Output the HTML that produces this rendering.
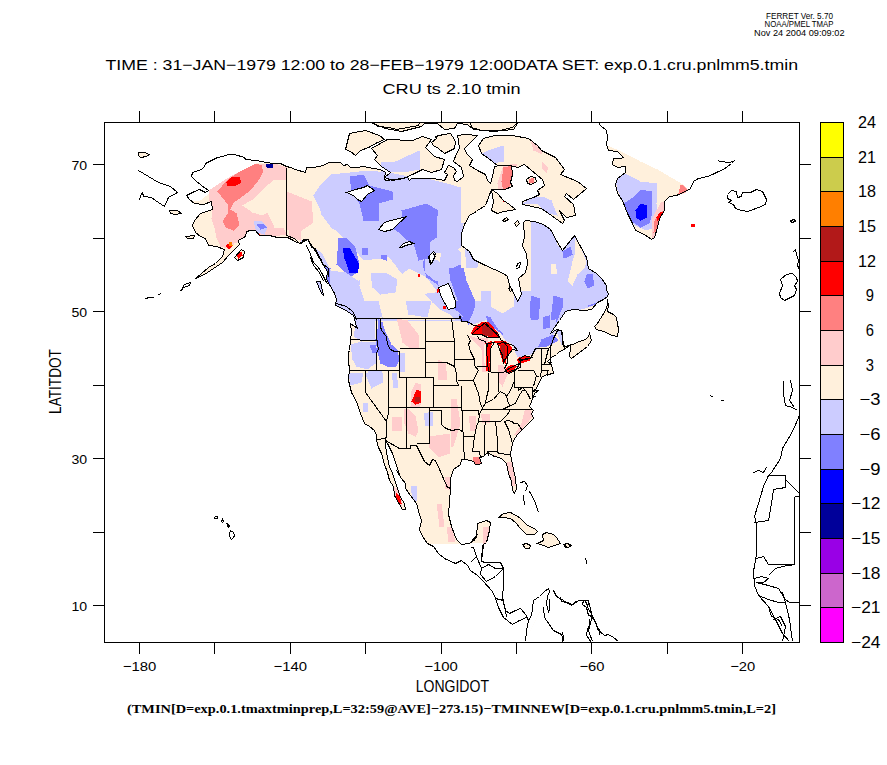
<!DOCTYPE html>
<html><head><meta charset="utf-8"><style>
html,body{margin:0;padding:0;background:#fff;}
svg{display:block;}
</style></head><body>
<svg width="887" height="765" viewBox="0 0 887 765" shape-rendering="crispEdges">
<rect width="887" height="765" fill="#fff"/>
<g clip-path="url(#clip)"><defs><clipPath id="landclip"><path d="M286.5 166.5 L280.5 163.5 L272.5 163.5 L261.5 161.5 L256.5 160.5 L245.5 159.5 L244.5 157.5 L234.5 154.5 L228.5 154.5 L222.5 156.5 L217.5 157.5 L211.5 160.5 L205.5 163.5 L203.5 168.5 L198.5 170.5 L192.5 172.5 L191.5 176.5 L195.5 180.5 L201.5 185.5 L208.5 190.5 L205.5 192.5 L199.5 189.5 L194.5 191.5 L186.5 195.5 L189.5 199.5 L194.5 203.5 L203.5 204.5 L211.5 201.5 L212.5 209.5 L206.5 211.5 L200.5 213.5 L194.5 220.5 L192.5 225.5 L195.5 232.5 L200.5 236.5 L205.5 238.5 L208.5 245.5 L216.5 246.5 L224.5 249.5 L222.5 256.5 L215.5 263.5 L208.5 267.5 L201.5 273.5 L195.5 278.5 L197.5 277.5 L204.5 274.5 L213.5 268.5 L222.5 262.5 L228.5 255.5 L235.5 248.5 L239.5 244.5 L238.5 240.5 L245.5 236.5 L246.5 231.5 L250.5 230.5 L255.5 230.5 L259.5 235.5 L264.5 235.5 L269.5 235.5 L277.5 237.5 L287.5 237.5 L293.5 240.5 L296.5 242.5 L301.5 243.5 L303.5 239.5 L308.5 239.5 L311.5 247.5 L315.5 248.5 L320.5 259.5 L323.5 265.5 L327.5 271.5 L326.5 279.5 L329.5 284.5 L334.5 293.5 L336.5 299.5 L335.5 305.5 L340.5 307.5 L347.5 311.5 L353.5 315.5 L354.5 318.5 L355.5 323.5 L357.5 328.5 L350.5 323.5 L351.5 332.5 L350.5 340.5 L349.5 350.5 L348.5 352.5 L348.5 362.5 L349.5 368.5 L348.5 380.5 L351.5 392.5 L355.5 399.5 L357.5 404.5 L360.5 413.5 L364.5 423.5 L369.5 426.5 L374.5 430.5 L376.5 435.5 L376.5 440.5 L378.5 447.5 L381.5 453.5 L384.5 464.5 L387.5 472.5 L389.5 480.5 L393.5 486.5 L394.5 495.5 L398.5 502.5 L402.5 509.5 L405.5 509.5 L404.5 503.5 L400.5 497.5 L397.5 488.5 L393.5 476.5 L391.5 470.5 L389.5 467.5 L387.5 457.5 L385.5 446.5 L385.5 440.5 L387.5 443.5 L392.5 453.5 L396.5 465.5 L399.5 474.5 L396.5 470.5 L401.5 478.5 L405.5 483.5 L405.5 488.5 L410.5 495.5 L416.5 503.5 L419.5 514.5 L421.5 520.5 L419.5 529.5 L422.5 536.5 L427.5 543.5 L433.5 546.5 L438.5 553.5 L444.5 558.5 L455.5 563.5 L461.5 560.5 L467.5 565.5 L470.5 570.5 L477.5 575.5 L482.5 580.5 L492.5 591.5 L495.5 598.5 L498.5 607.5 L503.5 617.5 L512.5 624.5 L519.5 620.5 L526.5 617.5 L528.5 620.5 L526.5 630.5 L525.5 641.5 L547.5 596.5 L549.5 591.5 L548.5 588.5 L544.5 591.5 L539.5 596.5 L533.5 600.5 L531.5 615.5 L528.5 620.5 L526.5 615.5 L520.5 608.5 L515.5 610.5 L509.5 613.5 L505.5 610.5 L502.5 598.5 L503.5 583.5 L503.5 568.5 L500.5 562.5 L493.5 562.5 L485.5 562.5 L481.5 561.5 L483.5 544.5 L486.5 542.5 L489.5 530.5 L490.5 522.5 L486.5 520.5 L477.5 523.5 L476.5 537.5 L473.5 540.5 L470.5 542.5 L477.5 534.5 L473.5 541.5 L468.5 543.5 L461.5 544.5 L456.5 539.5 L451.5 526.5 L448.5 514.5 L450.5 488.5 L450.5 478.5 L453.5 469.5 L460.5 464.5 L461.5 459.5 L466.5 459.5 L473.5 461.5 L475.5 464.5 L478.5 464.5 L481.5 463.5 L479.5 457.5 L483.5 456.5 L487.5 452.5 L494.5 456.5 L499.5 457.5 L502.5 459.5 L506.5 463.5 L508.5 473.5 L511.5 481.5 L512.5 490.5 L514.5 493.5 L516.5 488.5 L515.5 478.5 L512.5 464.5 L510.5 454.5 L511.5 447.5 L513.5 440.5 L517.5 434.5 L524.5 427.5 L529.5 422.5 L533.5 418.5 L531.5 413.5 L533.5 410.5 L529.5 406.5 L531.5 401.5 L534.5 393.5 L538.5 390.5 L532.5 391.5 L536.5 388.5 L539.5 381.5 L542.5 376.5 L547.5 374.5 L553.5 373.5 L551.5 364.5 L547.5 361.5 L551.5 357.5 L556.5 354.5 L559.5 351.5 L564.5 349.5 L570.5 344.5 L570.5 347.5 L569.5 356.5 L571.5 358.5 L579.5 352.5 L587.5 346.5 L591.5 340.5 L589.5 333.5 L587.5 338.5 L582.5 340.5 L576.5 342.5 L573.5 344.5 L564.5 346.5 L562.5 339.5 L561.5 330.5 L556.5 329.5 L550.5 333.5 L554.5 327.5 L559.5 320.5 L565.5 311.5 L572.5 309.5 L585.5 310.5 L591.5 309.5 L597.5 302.5 L603.5 299.5 L607.5 296.5 L608.5 293.5 L606.5 290.5 L606.5 285.5 L601.5 278.5 L596.5 273.5 L588.5 268.5 L586.5 257.5 L580.5 246.5 L574.5 235.5 L562.5 250.5 L557.5 242.5 L550.5 229.5 L543.5 224.5 L534.5 221.5 L525.5 220.5 L523.5 222.5 L524.5 236.5 L522.5 245.5 L526.5 254.5 L527.5 263.5 L525.5 272.5 L518.5 278.5 L521.5 294.5 L517.5 301.5 L514.5 294.5 L509.5 285.5 L507.5 276.5 L503.5 273.5 L494.5 269.5 L485.5 265.5 L473.5 259.5 L469.5 251.5 L461.5 245.5 L461.5 233.5 L464.5 224.5 L469.5 215.5 L476.5 211.5 L477.5 210.5 L485.5 205.5 L491.5 189.5 L495.5 189.5 L504.5 189.5 L512.5 186.5 L510.5 182.5 L512.5 174.5 L511.5 165.5 L499.5 165.5 L494.5 166.5 L492.5 176.5 L490.5 183.5 L487.5 180.5 L485.5 174.5 L477.5 170.5 L469.5 165.5 L472.5 159.5 L466.5 153.5 L464.5 148.5 L472.5 140.5 L477.5 135.5 L465.5 134.5 L457.5 135.5 L458.5 140.5 L459.5 148.5 L456.5 153.5 L453.5 161.5 L461.5 167.5 L463.5 176.5 L457.5 181.5 L454.5 180.5 L453.5 175.5 L456.5 171.5 L453.5 167.5 L448.5 165.5 L444.5 172.5 L447.5 174.5 L444.5 180.5 L433.5 178.5 L411.5 178.5 L409.5 180.5 L407.5 177.5 L401.5 178.5 L394.5 179.5 L385.5 180.5 L384.5 178.5 L385.5 172.5 L380.5 169.5 L373.5 168.5 L363.5 166.5 L356.5 167.5 L350.5 167.5 L347.5 164.5 L343.5 165.5 L340.5 162.5 L328.5 162.5 L323.5 165.5 L313.5 167.5 L306.5 167.5 L305.5 172.5 L295.5 169.5 L290.5 167.5ZM234.5 257.5 L241.5 249.5 L244.5 251.5 L243.5 257.5 L237.5 260.5ZM185.5 236.5 L194.5 235.5 L193.5 238.5 L187.5 238.5ZM316.5 281.5 L320.5 281.5 L321.5 286.5 L323.5 295.5 L321.5 293.5 L318.5 286.5ZM138.5 152.5 L144.5 152.5 L149.5 154.5 L146.5 156.5 L140.5 157.5 L138.5 155.5ZM169.5 210.5 L177.5 210.5 L181.5 213.5 L175.5 214.5 L170.5 213.5ZM607.5 299.5 L607.5 304.5 L605.5 310.5 L600.5 318.5 L597.5 323.5 L594.5 326.5 L596.5 329.5 L603.5 331.5 L612.5 335.5 L617.5 336.5 L618.5 329.5 L617.5 323.5 L616.5 317.5 L613.5 314.5 L607.5 311.5 L608.5 305.5ZM498.5 517.5 L503.5 513.5 L510.5 512.5 L519.5 517.5 L527.5 525.5 L534.5 528.5 L537.5 531.5 L534.5 534.5 L526.5 534.5 L520.5 528.5 L515.5 522.5 L510.5 518.5 L503.5 517.5ZM522.5 544.5 L526.5 543.5 L530.5 545.5 L529.5 548.5 L525.5 548.5ZM537.5 543.5 L543.5 540.5 L542.5 534.5 L546.5 532.5 L553.5 534.5 L556.5 537.5 L560.5 543.5 L554.5 545.5 L548.5 547.5 L543.5 545.5ZM564.5 544.5 L567.5 543.5 L571.5 545.5 L568.5 547.5 L565.5 546.5ZM478.5 145.5 L483.5 138.5 L494.5 135.5 L512.5 135.5 L528.5 138.5 L537.5 145.5 L541.5 150.5 L555.5 157.5 L564.5 169.5 L560.5 174.5 L577.5 181.5 L586.5 188.5 L573.5 199.5 L566.5 193.5 L564.5 196.5 L573.5 204.5 L575.5 215.5 L566.5 217.5 L559.5 210.5 L564.5 220.5 L562.5 223.5 L551.5 215.5 L541.5 208.5 L522.5 204.5 L522.5 201.5 L533.5 197.5 L539.5 194.5 L537.5 190.5 L544.5 185.5 L542.5 179.5 L531.5 170.5 L524.5 164.5 L517.5 167.5 L510.5 165.5 L497.5 165.5 L488.5 158.5 L481.5 153.5ZM470.5 122.5 L471.5 127.5 L481.5 130.5 L499.5 130.5 L512.5 127.5 L517.5 122.5ZM371.5 148.5 L387.5 139.5 L412.5 140.5 L422.5 136.5 L431.5 139.5 L425.5 147.5 L434.5 156.5 L444.5 159.5 L441.5 169.5 L431.5 172.5 L422.5 169.5 L412.5 174.5 L403.5 178.5 L392.5 180.5 L384.5 177.5 L390.5 172.5 L381.5 166.5 L374.5 159.5 L377.5 155.5ZM345.5 149.5 L349.5 133.5 L365.5 130.5 L379.5 135.5 L384.5 139.5 L377.5 142.5 L368.5 147.5 L360.5 150.5 L355.5 155.5 L350.5 151.5ZM431.5 142.5 L436.5 138.5 L435.5 136.5 L443.5 134.5 L450.5 133.5 L452.5 136.5 L455.5 141.5 L454.5 148.5 L444.5 153.5 L438.5 148.5 L433.5 145.5ZM491.5 189.5 L497.5 193.5 L503.5 200.5 L509.5 204.5 L515.5 209.5 L510.5 210.5 L503.5 211.5 L497.5 213.5 L491.5 210.5 L493.5 201.5ZM373.5 122.5 L377.5 126.5 L389.5 127.5 L396.5 129.5 L407.5 127.5 L418.5 125.5 L419.5 122.5ZM365.5 120.5 L385.5 128.5 L401.5 131.5 L421.5 126.5 L424.5 123.5 L437.5 123.5 L444.5 129.5 L454.5 128.5 L457.5 123.5 L467.5 124.5 L473.5 129.5 L493.5 131.5 L513.5 129.5 L517.5 123.5 L516.5 120.5ZM526.5 179.5 L530.5 176.5 L535.5 177.5 L536.5 181.5 L531.5 184.5 L527.5 183.5ZM502.5 220.5 L506.5 217.5 L508.5 219.5 L504.5 221.5ZM514.5 223.5 L517.5 220.5 L519.5 223.5 L516.5 226.5ZM607.5 145.5 L623.5 152.5 L640.5 161.5 L657.5 169.5 L669.5 176.5 L681.5 183.5 L687.5 189.5 L685.5 192.5 L676.5 195.5 L669.5 196.5 L664.5 201.5 L664.5 210.5 L659.5 218.5 L657.5 227.5 L654.5 237.5 L651.5 239.5 L644.5 234.5 L635.5 230.5 L632.5 223.5 L627.5 213.5 L622.5 200.5 L617.5 193.5 L615.5 184.5 L617.5 178.5 L625.5 172.5 L625.5 166.5 L617.5 167.5 L612.5 164.5 L613.5 158.5 L623.5 157.5 L617.5 151.5 L608.5 150.5Z"/></clipPath></defs><path d="M286.5 166.5 L280.5 163.5 L272.5 163.5 L261.5 161.5 L256.5 160.5 L245.5 159.5 L244.5 157.5 L234.5 154.5 L228.5 154.5 L222.5 156.5 L217.5 157.5 L211.5 160.5 L205.5 163.5 L203.5 168.5 L198.5 170.5 L192.5 172.5 L191.5 176.5 L195.5 180.5 L201.5 185.5 L208.5 190.5 L205.5 192.5 L199.5 189.5 L194.5 191.5 L186.5 195.5 L189.5 199.5 L194.5 203.5 L203.5 204.5 L211.5 201.5 L212.5 209.5 L206.5 211.5 L200.5 213.5 L194.5 220.5 L192.5 225.5 L195.5 232.5 L200.5 236.5 L205.5 238.5 L208.5 245.5 L216.5 246.5 L224.5 249.5 L222.5 256.5 L215.5 263.5 L208.5 267.5 L201.5 273.5 L195.5 278.5 L197.5 277.5 L204.5 274.5 L213.5 268.5 L222.5 262.5 L228.5 255.5 L235.5 248.5 L239.5 244.5 L238.5 240.5 L245.5 236.5 L246.5 231.5 L250.5 230.5 L255.5 230.5 L259.5 235.5 L264.5 235.5 L269.5 235.5 L277.5 237.5 L287.5 237.5 L293.5 240.5 L296.5 242.5 L301.5 243.5 L303.5 239.5 L308.5 239.5 L311.5 247.5 L315.5 248.5 L320.5 259.5 L323.5 265.5 L327.5 271.5 L326.5 279.5 L329.5 284.5 L334.5 293.5 L336.5 299.5 L335.5 305.5 L340.5 307.5 L347.5 311.5 L353.5 315.5 L354.5 318.5 L355.5 323.5 L357.5 328.5 L350.5 323.5 L351.5 332.5 L350.5 340.5 L349.5 350.5 L348.5 352.5 L348.5 362.5 L349.5 368.5 L348.5 380.5 L351.5 392.5 L355.5 399.5 L357.5 404.5 L360.5 413.5 L364.5 423.5 L369.5 426.5 L374.5 430.5 L376.5 435.5 L376.5 440.5 L378.5 447.5 L381.5 453.5 L384.5 464.5 L387.5 472.5 L389.5 480.5 L393.5 486.5 L394.5 495.5 L398.5 502.5 L402.5 509.5 L405.5 509.5 L404.5 503.5 L400.5 497.5 L397.5 488.5 L393.5 476.5 L391.5 470.5 L389.5 467.5 L387.5 457.5 L385.5 446.5 L385.5 440.5 L387.5 443.5 L392.5 453.5 L396.5 465.5 L399.5 474.5 L396.5 470.5 L401.5 478.5 L405.5 483.5 L405.5 488.5 L410.5 495.5 L416.5 503.5 L419.5 514.5 L421.5 520.5 L419.5 529.5 L422.5 536.5 L427.5 543.5 L433.5 546.5 L438.5 553.5 L444.5 558.5 L455.5 563.5 L461.5 560.5 L467.5 565.5 L470.5 570.5 L477.5 575.5 L482.5 580.5 L492.5 591.5 L495.5 598.5 L498.5 607.5 L503.5 617.5 L512.5 624.5 L519.5 620.5 L526.5 617.5 L528.5 620.5 L526.5 630.5 L525.5 641.5 L547.5 596.5 L549.5 591.5 L548.5 588.5 L544.5 591.5 L539.5 596.5 L533.5 600.5 L531.5 615.5 L528.5 620.5 L526.5 615.5 L520.5 608.5 L515.5 610.5 L509.5 613.5 L505.5 610.5 L502.5 598.5 L503.5 583.5 L503.5 568.5 L500.5 562.5 L493.5 562.5 L485.5 562.5 L481.5 561.5 L483.5 544.5 L486.5 542.5 L489.5 530.5 L490.5 522.5 L486.5 520.5 L477.5 523.5 L476.5 537.5 L473.5 540.5 L470.5 542.5 L477.5 534.5 L473.5 541.5 L468.5 543.5 L461.5 544.5 L456.5 539.5 L451.5 526.5 L448.5 514.5 L450.5 488.5 L450.5 478.5 L453.5 469.5 L460.5 464.5 L461.5 459.5 L466.5 459.5 L473.5 461.5 L475.5 464.5 L478.5 464.5 L481.5 463.5 L479.5 457.5 L483.5 456.5 L487.5 452.5 L494.5 456.5 L499.5 457.5 L502.5 459.5 L506.5 463.5 L508.5 473.5 L511.5 481.5 L512.5 490.5 L514.5 493.5 L516.5 488.5 L515.5 478.5 L512.5 464.5 L510.5 454.5 L511.5 447.5 L513.5 440.5 L517.5 434.5 L524.5 427.5 L529.5 422.5 L533.5 418.5 L531.5 413.5 L533.5 410.5 L529.5 406.5 L531.5 401.5 L534.5 393.5 L538.5 390.5 L532.5 391.5 L536.5 388.5 L539.5 381.5 L542.5 376.5 L547.5 374.5 L553.5 373.5 L551.5 364.5 L547.5 361.5 L551.5 357.5 L556.5 354.5 L559.5 351.5 L564.5 349.5 L570.5 344.5 L570.5 347.5 L569.5 356.5 L571.5 358.5 L579.5 352.5 L587.5 346.5 L591.5 340.5 L589.5 333.5 L587.5 338.5 L582.5 340.5 L576.5 342.5 L573.5 344.5 L564.5 346.5 L562.5 339.5 L561.5 330.5 L556.5 329.5 L550.5 333.5 L554.5 327.5 L559.5 320.5 L565.5 311.5 L572.5 309.5 L585.5 310.5 L591.5 309.5 L597.5 302.5 L603.5 299.5 L607.5 296.5 L608.5 293.5 L606.5 290.5 L606.5 285.5 L601.5 278.5 L596.5 273.5 L588.5 268.5 L586.5 257.5 L580.5 246.5 L574.5 235.5 L562.5 250.5 L557.5 242.5 L550.5 229.5 L543.5 224.5 L534.5 221.5 L525.5 220.5 L523.5 222.5 L524.5 236.5 L522.5 245.5 L526.5 254.5 L527.5 263.5 L525.5 272.5 L518.5 278.5 L521.5 294.5 L517.5 301.5 L514.5 294.5 L509.5 285.5 L507.5 276.5 L503.5 273.5 L494.5 269.5 L485.5 265.5 L473.5 259.5 L469.5 251.5 L461.5 245.5 L461.5 233.5 L464.5 224.5 L469.5 215.5 L476.5 211.5 L477.5 210.5 L485.5 205.5 L491.5 189.5 L495.5 189.5 L504.5 189.5 L512.5 186.5 L510.5 182.5 L512.5 174.5 L511.5 165.5 L499.5 165.5 L494.5 166.5 L492.5 176.5 L490.5 183.5 L487.5 180.5 L485.5 174.5 L477.5 170.5 L469.5 165.5 L472.5 159.5 L466.5 153.5 L464.5 148.5 L472.5 140.5 L477.5 135.5 L465.5 134.5 L457.5 135.5 L458.5 140.5 L459.5 148.5 L456.5 153.5 L453.5 161.5 L461.5 167.5 L463.5 176.5 L457.5 181.5 L454.5 180.5 L453.5 175.5 L456.5 171.5 L453.5 167.5 L448.5 165.5 L444.5 172.5 L447.5 174.5 L444.5 180.5 L433.5 178.5 L411.5 178.5 L409.5 180.5 L407.5 177.5 L401.5 178.5 L394.5 179.5 L385.5 180.5 L384.5 178.5 L385.5 172.5 L380.5 169.5 L373.5 168.5 L363.5 166.5 L356.5 167.5 L350.5 167.5 L347.5 164.5 L343.5 165.5 L340.5 162.5 L328.5 162.5 L323.5 165.5 L313.5 167.5 L306.5 167.5 L305.5 172.5 L295.5 169.5 L290.5 167.5ZM234.5 257.5 L241.5 249.5 L244.5 251.5 L243.5 257.5 L237.5 260.5ZM185.5 236.5 L194.5 235.5 L193.5 238.5 L187.5 238.5ZM316.5 281.5 L320.5 281.5 L321.5 286.5 L323.5 295.5 L321.5 293.5 L318.5 286.5ZM138.5 152.5 L144.5 152.5 L149.5 154.5 L146.5 156.5 L140.5 157.5 L138.5 155.5ZM169.5 210.5 L177.5 210.5 L181.5 213.5 L175.5 214.5 L170.5 213.5ZM607.5 299.5 L607.5 304.5 L605.5 310.5 L600.5 318.5 L597.5 323.5 L594.5 326.5 L596.5 329.5 L603.5 331.5 L612.5 335.5 L617.5 336.5 L618.5 329.5 L617.5 323.5 L616.5 317.5 L613.5 314.5 L607.5 311.5 L608.5 305.5ZM498.5 517.5 L503.5 513.5 L510.5 512.5 L519.5 517.5 L527.5 525.5 L534.5 528.5 L537.5 531.5 L534.5 534.5 L526.5 534.5 L520.5 528.5 L515.5 522.5 L510.5 518.5 L503.5 517.5ZM522.5 544.5 L526.5 543.5 L530.5 545.5 L529.5 548.5 L525.5 548.5ZM537.5 543.5 L543.5 540.5 L542.5 534.5 L546.5 532.5 L553.5 534.5 L556.5 537.5 L560.5 543.5 L554.5 545.5 L548.5 547.5 L543.5 545.5ZM564.5 544.5 L567.5 543.5 L571.5 545.5 L568.5 547.5 L565.5 546.5ZM478.5 145.5 L483.5 138.5 L494.5 135.5 L512.5 135.5 L528.5 138.5 L537.5 145.5 L541.5 150.5 L555.5 157.5 L564.5 169.5 L560.5 174.5 L577.5 181.5 L586.5 188.5 L573.5 199.5 L566.5 193.5 L564.5 196.5 L573.5 204.5 L575.5 215.5 L566.5 217.5 L559.5 210.5 L564.5 220.5 L562.5 223.5 L551.5 215.5 L541.5 208.5 L522.5 204.5 L522.5 201.5 L533.5 197.5 L539.5 194.5 L537.5 190.5 L544.5 185.5 L542.5 179.5 L531.5 170.5 L524.5 164.5 L517.5 167.5 L510.5 165.5 L497.5 165.5 L488.5 158.5 L481.5 153.5ZM470.5 122.5 L471.5 127.5 L481.5 130.5 L499.5 130.5 L512.5 127.5 L517.5 122.5ZM371.5 148.5 L387.5 139.5 L412.5 140.5 L422.5 136.5 L431.5 139.5 L425.5 147.5 L434.5 156.5 L444.5 159.5 L441.5 169.5 L431.5 172.5 L422.5 169.5 L412.5 174.5 L403.5 178.5 L392.5 180.5 L384.5 177.5 L390.5 172.5 L381.5 166.5 L374.5 159.5 L377.5 155.5ZM345.5 149.5 L349.5 133.5 L365.5 130.5 L379.5 135.5 L384.5 139.5 L377.5 142.5 L368.5 147.5 L360.5 150.5 L355.5 155.5 L350.5 151.5ZM431.5 142.5 L436.5 138.5 L435.5 136.5 L443.5 134.5 L450.5 133.5 L452.5 136.5 L455.5 141.5 L454.5 148.5 L444.5 153.5 L438.5 148.5 L433.5 145.5ZM491.5 189.5 L497.5 193.5 L503.5 200.5 L509.5 204.5 L515.5 209.5 L510.5 210.5 L503.5 211.5 L497.5 213.5 L491.5 210.5 L493.5 201.5ZM373.5 122.5 L377.5 126.5 L389.5 127.5 L396.5 129.5 L407.5 127.5 L418.5 125.5 L419.5 122.5ZM365.5 120.5 L385.5 128.5 L401.5 131.5 L421.5 126.5 L424.5 123.5 L437.5 123.5 L444.5 129.5 L454.5 128.5 L457.5 123.5 L467.5 124.5 L473.5 129.5 L493.5 131.5 L513.5 129.5 L517.5 123.5 L516.5 120.5ZM526.5 179.5 L530.5 176.5 L535.5 177.5 L536.5 181.5 L531.5 184.5 L527.5 183.5ZM502.5 220.5 L506.5 217.5 L508.5 219.5 L504.5 221.5ZM514.5 223.5 L517.5 220.5 L519.5 223.5 L516.5 226.5ZM607.5 145.5 L623.5 152.5 L640.5 161.5 L657.5 169.5 L669.5 176.5 L681.5 183.5 L687.5 189.5 L685.5 192.5 L676.5 195.5 L669.5 196.5 L664.5 201.5 L664.5 210.5 L659.5 218.5 L657.5 227.5 L654.5 237.5 L651.5 239.5 L644.5 234.5 L635.5 230.5 L632.5 223.5 L627.5 213.5 L622.5 200.5 L617.5 193.5 L615.5 184.5 L617.5 178.5 L625.5 172.5 L625.5 166.5 L617.5 167.5 L612.5 164.5 L613.5 158.5 L623.5 157.5 L617.5 151.5 L608.5 150.5Z" fill="#fff0dc" stroke="none" fill-rule="nonzero"/><g clip-path="url(#landclip)"><path d="M189.5 161.5 L211.5 155.5 L234.5 152.5 L261.5 158.5 L280.5 161.5 L255.5 163.5 L242.5 171.5 L227.5 179.5 L211.5 191.5 L200.5 200.5 L184.5 200.5 L186.5 187.5Z" fill="#ffffff"/><path d="M410.5 543.5 L434.5 543.5 L456.5 543.5 L475.5 543.5 L495.5 543.5 L495.5 599.5 L410.5 599.5Z" fill="#ffffff"/><path d="M470.5 542.5 L492.5 542.5 L492.5 630.5 L470.5 630.5Z" fill="#ffffff"/><path d="M330.5 174.5 L349.5 172.5 L367.5 170.5 L388.5 172.5 L409.5 176.5 L426.5 178.5 L447.5 183.5 L460.5 187.5 L460.5 320.5 L426.5 320.5 L413.5 306.5 L405.5 293.5 L392.5 285.5 L376.5 277.5 L363.5 260.5 L349.5 243.5 L334.5 229.5 L321.5 212.5 L313.5 195.5 L321.5 183.5Z" fill="#ccccff"/><path d="M372.5 260.5 L388.5 256.5 L397.5 268.5 L405.5 277.5 L413.5 293.5 L397.5 293.5 L380.5 285.5Z" fill="#fff0dc"/><path d="M397.5 277.5 L409.5 268.5 L426.5 277.5 L438.5 293.5 L426.5 306.5 L413.5 302.5Z" fill="#fff0dc"/><path d="M286.5 191.5 L311.5 201.5 L313.5 222.5 L300.5 231.5 L286.5 229.5Z" fill="#ffcccc"/><path d="M317.5 201.5 L328.5 203.5 L340.5 226.5 L332.5 229.5 L321.5 214.5Z" fill="#ccccff"/><path d="M349.5 176.5 L363.5 174.5 L369.5 185.5 L392.5 191.5 L392.5 199.5 L378.5 203.5 L378.5 220.5 L363.5 220.5 L359.5 203.5 L351.5 191.5Z" fill="#8080ff"/><path d="M401.5 210.5 L426.5 203.5 L438.5 210.5 L436.5 222.5 L430.5 239.5 L426.5 258.5 L418.5 260.5 L413.5 243.5 L405.5 239.5 L397.5 231.5 L388.5 226.5 L401.5 218.5Z" fill="#8080ff"/><path d="M338.5 237.5 L346.5 237.5 L355.5 247.5 L359.5 264.5 L357.5 272.5 L349.5 277.5 L336.5 264.5Z" fill="#8080ff"/><path d="M342.5 247.5 L349.5 247.5 L359.5 264.5 L357.5 272.5 L349.5 272.5 L344.5 258.5Z" fill="#0000ff"/><path d="M451.5 268.5 L460.5 264.5 L460.5 293.5 L453.5 285.5Z" fill="#8080ff"/><path d="M380.5 254.5 L386.5 254.5 L386.5 264.5 L380.5 264.5Z" fill="#8080ff"/><path d="M361.5 247.5 L367.5 247.5 L367.5 254.5 L361.5 254.5Z" fill="#8080ff"/><path d="M424.5 256.5 L434.5 268.5 L438.5 285.5 L426.5 277.5 L422.5 264.5Z" fill="#8080ff"/><path d="M317.5 264.5 L328.5 268.5 L330.5 281.5 L321.5 283.5Z" fill="#8080ff"/><path d="M300.5 239.5 L321.5 252.5 L334.5 277.5 L338.5 306.5 L330.5 320.5 L321.5 306.5 L311.5 277.5Z" fill="#ccccff"/><path d="M332.5 285.5 L374.5 277.5 L388.5 289.5 L405.5 298.5 L426.5 293.5 L460.5 289.5 L460.5 320.5 L332.5 320.5Z" fill="#ccccff"/><path d="M374.5 293.5 L388.5 293.5 L397.5 306.5 L380.5 310.5Z" fill="#fff0dc"/><path d="M305.5 243.5 L313.5 247.5 L328.5 268.5 L330.5 285.5 L321.5 285.5 L311.5 264.5Z" fill="#ccccff"/><path d="M321.5 264.5 L330.5 268.5 L329.5 283.5 L323.5 281.5Z" fill="#8080ff"/><path d="M400.5 220.5 L436.5 220.5 L436.5 237.5 L430.5 241.5 L429.5 258.5 L421.5 259.5 L419.5 252.5 L414.5 241.5 L405.5 233.5 L400.5 228.5Z" fill="#8080ff"/><path d="M448.5 267.5 L463.5 267.5 L466.5 280.5 L475.5 301.5 L477.5 321.5 L468.5 324.5 L461.5 311.5 L455.5 294.5 L450.5 280.5Z" fill="#8080ff"/><path d="M461.5 220.5 L468.5 220.5 L467.5 243.5 L461.5 249.5 L465.5 258.5 L470.5 261.5 L482.5 268.5 L502.5 275.5 L505.5 284.5 L511.5 296.5 L517.5 303.5 L511.5 313.5 L499.5 310.5 L487.5 302.5 L479.5 287.5 L473.5 266.5 L468.5 261.5 L458.5 249.5 L457.5 231.5Z" fill="#fff0dc"/><path d="M400.5 281.5 L407.5 278.5 L414.5 287.5 L424.5 293.5 L432.5 302.5 L441.5 310.5 L448.5 313.5 L455.5 319.5 L400.5 319.5Z" fill="#fff0dc"/><path d="M433.5 252.5 L441.5 252.5 L439.5 261.5 L435.5 259.5Z" fill="#fff0dc"/><path d="M208.5 190.5 L220.5 182.5 L233.5 174.5 L245.5 168.5 L255.5 163.5 L274.5 163.5 L286.5 167.5 L286.5 191.5 L280.5 191.5 L274.5 199.5 L267.5 212.5 L274.5 227.5 L283.5 227.5 L286.5 234.5 L267.5 237.5 L250.5 237.5 L242.5 240.5 L234.5 243.5 L230.5 249.5 L220.5 246.5 L216.5 237.5 L214.5 227.5 L211.5 218.5 L212.5 209.5 L209.5 201.5Z" fill="#ffcccc"/><path d="M242.5 205.5 L252.5 199.5 L264.5 187.5 L274.5 179.5 L286.5 180.5 L286.5 191.5 L280.5 191.5 L274.5 199.5 L267.5 212.5 L261.5 215.5 L252.5 212.5Z" fill="#fff0dc"/><path d="M217.5 191.5 L227.5 179.5 L239.5 171.5 L255.5 163.5 L261.5 165.5 L263.5 171.5 L258.5 180.5 L250.5 190.5 L242.5 196.5 L233.5 202.5 L230.5 209.5 L236.5 213.5 L239.5 224.5 L233.5 230.5 L225.5 227.5 L222.5 221.5 L227.5 213.5 L228.5 205.5Z" fill="#ff8080"/><path d="M226.5 182.5 L230.5 177.5 L239.5 176.5 L241.5 182.5 L236.5 185.5 L227.5 186.5Z" fill="#ff0000"/><path d="M253.5 221.5 L261.5 220.5 L267.5 227.5 L264.5 234.5 L256.5 232.5Z" fill="#ccccff"/><path d="M256.5 224.5 L263.5 223.5 L266.5 227.5 L260.5 229.5Z" fill="#8080ff"/><path d="M265.5 163.5 L272.5 163.5 L272.5 167.5 L266.5 167.5Z" fill="#00009a"/><path d="M255.5 234.5 L258.5 232.5 L260.5 235.5 L256.5 237.5Z" fill="#ff0000"/><path d="M261.5 234.5 L264.5 234.5 L265.5 237.5 L261.5 237.5Z" fill="#ff0000"/><path d="M225.5 245.5 L228.5 243.5 L231.5 246.5 L228.5 249.5Z" fill="#ff0000"/><path d="M228.5 242.5 L231.5 241.5 L232.5 245.5 L229.5 246.5Z" fill="#ff7f00"/><path d="M288.5 227.5 L300.5 221.5 L300.5 240.5 L289.5 237.5Z" fill="#ffcccc"/><path d="M362.5 260.5 L380.5 258.5 L394.5 263.5 L401.5 277.5 L404.5 297.5 L417.5 306.5 L424.5 317.5 L401.5 317.5 L380.5 317.5 L363.5 307.5 L357.5 294.5 L360.5 280.5Z" fill="#fff0dc"/><path d="M370.5 273.5 L385.5 272.5 L397.5 279.5 L395.5 292.5 L380.5 294.5 L372.5 287.5Z" fill="#ccccff"/><path d="M330.5 270.5 L345.5 272.5 L357.5 280.5 L363.5 297.5 L368.5 317.5 L353.5 317.5 L340.5 301.5 L330.5 294.5Z" fill="#ccccff"/><path d="M424.5 258.5 L448.5 263.5 L448.5 280.5 L434.5 280.5 L424.5 272.5Z" fill="#ccccff"/><path d="M436.5 289.5 L439.5 288.5 L440.5 291.5 L437.5 292.5Z" fill="#ff0000"/><path d="M442.5 305.5 L445.5 305.5 L445.5 308.5 L442.5 308.5Z" fill="#ff0000"/><path d="M417.5 273.5 L419.5 273.5 L419.5 276.5 L417.5 276.5Z" fill="#ff0000"/><path d="M428.5 255.5 L430.5 255.5 L430.5 258.5 L428.5 258.5Z" fill="#ff0000"/><path d="M356.5 320.5 L374.5 318.5 L375.5 339.5 L361.5 341.5 L353.5 336.5Z" fill="#ccccff"/><path d="M350.5 344.5 L361.5 341.5 L375.5 342.5 L375.5 363.5 L367.5 369.5 L356.5 366.5 L352.5 359.5Z" fill="#ccccff"/><path d="M369.5 345.5 L375.5 344.5 L377.5 352.5 L372.5 352.5Z" fill="#8080ff"/><path d="M377.5 318.5 L382.5 322.5 L385.5 331.5 L391.5 344.5 L397.5 350.5 L399.5 359.5 L396.5 366.5 L389.5 367.5 L380.5 363.5 L377.5 352.5 L375.5 339.5 L377.5 328.5Z" fill="#8080ff"/><path d="M396.5 318.5 L407.5 320.5 L418.5 334.5 L418.5 347.5 L410.5 348.5 L402.5 342.5 L399.5 329.5Z" fill="#ffcccc"/><path d="M399.5 352.5 L404.5 352.5 L404.5 371.5 L399.5 371.5Z" fill="#ccccff"/><path d="M364.5 372.5 L382.5 372.5 L382.5 382.5 L371.5 388.5Z" fill="#ccccff"/><path d="M348.5 372.5 L363.5 372.5 L361.5 382.5 L350.5 385.5Z" fill="#ccccff"/><path d="M359.5 300.5 L378.5 300.5 L382.5 317.5 L364.5 315.5Z" fill="#ccccff"/><path d="M405.5 300.5 L431.5 300.5 L427.5 317.5 L408.5 314.5Z" fill="#ccccff"/><path d="M456.5 300.5 L469.5 300.5 L469.5 323.5 L460.5 320.5 L457.5 309.5Z" fill="#8080ff"/><path d="M437.5 359.5 L445.5 363.5 L446.5 375.5 L437.5 378.5Z" fill="#ffcccc"/><path d="M411.5 391.5 L415.5 382.5 L420.5 384.5 L421.5 402.5 L418.5 408.5 L410.5 406.5Z" fill="#ffcccc"/><path d="M411.5 401.5 L416.5 389.5 L420.5 391.5 L421.5 402.5 L415.5 404.5Z" fill="#ff0000"/><path d="M414.5 396.5 L419.5 396.5 L420.5 401.5 L414.5 401.5Z" fill="#b21919"/><path d="M403.5 408.5 L408.5 408.5 L415.5 416.5 L418.5 430.5 L415.5 436.5 L408.5 433.5 L404.5 423.5Z" fill="#ffcccc"/><path d="M423.5 413.5 L432.5 411.5 L432.5 425.5 L425.5 425.5Z" fill="#ccccff"/><path d="M391.5 416.5 L401.5 416.5 L401.5 431.5 L391.5 430.5Z" fill="#ffcccc"/><path d="M428.5 436.5 L449.5 433.5 L449.5 453.5 L438.5 457.5 L428.5 447.5Z" fill="#ffcccc"/><path d="M437.5 362.5 L445.5 362.5 L447.5 379.5 L438.5 379.5Z" fill="#ffcccc"/><path d="M367.5 370.5 L381.5 370.5 L381.5 382.5 L370.5 384.5Z" fill="#ccccff"/><path d="M391.5 372.5 L396.5 372.5 L398.5 387.5 L393.5 387.5Z" fill="#ccccff"/><path d="M362.5 402.5 L367.5 402.5 L367.5 411.5 L362.5 411.5Z" fill="#ccccff"/><path d="M450.5 307.5 L462.5 316.5 L472.5 324.5 L487.5 319.5 L499.5 331.5 L505.5 340.5 L514.5 345.5 L519.5 349.5 L529.5 352.5 L536.5 347.5 L549.5 340.5 L559.5 324.5 L559.5 300.5 L450.5 300.5Z" fill="#ccccff"/><path d="M450.5 300.5 L474.5 300.5 L474.5 307.5 L472.5 314.5 L468.5 321.5 L462.5 316.5 L457.5 311.5 L452.5 307.5Z" fill="#8080ff"/><path d="M529.5 300.5 L539.5 300.5 L540.5 314.5 L536.5 318.5 L530.5 314.5Z" fill="#8080ff"/><path d="M543.5 312.5 L549.5 314.5 L550.5 327.5 L544.5 329.5Z" fill="#8080ff"/><path d="M485.5 314.5 L492.5 317.5 L497.5 322.5 L504.5 324.5 L508.5 332.5 L502.5 334.5 L494.5 328.5 L487.5 322.5Z" fill="#8080ff"/><path d="M468.5 335.5 L474.5 337.5 L487.5 338.5 L487.5 342.5 L484.5 344.5 L483.5 352.5 L484.5 362.5 L487.5 371.5 L481.5 371.5 L481.5 349.5Z" fill="#ffcccc"/><path d="M470.5 333.5 L473.5 327.5 L482.5 321.5 L487.5 321.5 L493.5 327.5 L498.5 333.5 L497.5 337.5 L490.5 337.5 L484.5 335.5 L479.5 334.5 L474.5 335.5Z" fill="#ff0000"/><path d="M481.5 326.5 L487.5 324.5 L493.5 329.5 L492.5 335.5 L484.5 335.5 L482.5 332.5Z" fill="#b21919"/><path d="M485.5 343.5 L492.5 340.5 L490.5 349.5 L489.5 362.5 L489.5 371.5 L485.5 370.5 L485.5 358.5Z" fill="#ff0000"/><path d="M492.5 340.5 L504.5 340.5 L512.5 347.5 L509.5 353.5 L507.5 354.5 L505.5 363.5 L502.5 362.5 L500.5 354.5 L499.5 345.5Z" fill="#ff0000"/><path d="M500.5 345.5 L504.5 344.5 L505.5 354.5 L503.5 358.5Z" fill="#b21919"/><path d="M504.5 369.5 L509.5 365.5 L514.5 364.5 L516.5 366.5 L512.5 371.5 L507.5 373.5Z" fill="#ff0000"/><path d="M516.5 359.5 L521.5 355.5 L529.5 357.5 L529.5 360.5 L523.5 362.5 L518.5 362.5Z" fill="#ff0000"/><path d="M497.5 364.5 L502.5 364.5 L507.5 374.5 L502.5 386.5 L497.5 381.5Z" fill="#ffcccc"/><path d="M480.5 290.5 L609.5 290.5 L609.5 300.5 L598.5 303.5 L585.5 308.5 L568.5 312.5 L561.5 320.5 L551.5 334.5 L541.5 346.5 L530.5 354.5 L517.5 357.5 L510.5 340.5 L498.5 329.5 L490.5 317.5 L480.5 313.5Z" fill="#ccccff"/><path d="M529.5 300.5 L536.5 300.5 L539.5 312.5 L536.5 318.5 L529.5 317.5Z" fill="#8080ff"/><path d="M554.5 296.5 L564.5 300.5 L561.5 310.5 L556.5 322.5 L553.5 312.5Z" fill="#8080ff"/><path d="M542.5 315.5 L549.5 313.5 L549.5 327.5 L542.5 329.5Z" fill="#8080ff"/><path d="M541.5 339.5 L553.5 334.5 L558.5 340.5 L547.5 346.5 L537.5 347.5Z" fill="#8080ff"/><path d="M585.5 300.5 L598.5 296.5 L602.5 303.5 L588.5 306.5Z" fill="#8080ff"/><path d="M553.5 323.5 L568.5 318.5 L575.5 330.5 L581.5 337.5 L573.5 344.5 L561.5 344.5Z" fill="#ccccff"/><path d="M546.5 293.5 L553.5 293.5 L551.5 300.5 L547.5 298.5Z" fill="#fff0dc"/><path d="M490.5 290.5 L513.5 290.5 L513.5 306.5 L502.5 313.5 L490.5 306.5Z" fill="#fff0dc"/><path d="M530.5 220.5 L546.5 223.5 L555.5 230.5 L557.5 244.5 L562.5 251.5 L570.5 240.5 L574.5 235.5 L580.5 246.5 L586.5 257.5 L588.5 268.5 L596.5 273.5 L601.5 278.5 L606.5 285.5 L608.5 293.5 L604.5 298.5 L597.5 302.5 L580.5 307.5 L563.5 312.5 L530.5 319.5Z" fill="#ccccff"/><path d="M562.5 251.5 L570.5 246.5 L572.5 254.5 L567.5 257.5 L563.5 257.5Z" fill="#8080ff"/><path d="M586.5 274.5 L592.5 273.5 L594.5 285.5 L587.5 288.5 L584.5 281.5Z" fill="#8080ff"/><path d="M530.5 295.5 L540.5 298.5 L538.5 319.5 L530.5 319.5Z" fill="#8080ff"/><path d="M553.5 295.5 L563.5 298.5 L562.5 308.5 L555.5 319.5 L550.5 319.5Z" fill="#8080ff"/><path d="M574.5 237.5 L580.5 246.5 L586.5 261.5 L584.5 268.5 L577.5 274.5 L572.5 285.5 L567.5 281.5 L572.5 261.5 L575.5 251.5Z" fill="#fff0dc"/><path d="M550.5 263.5 L555.5 263.5 L557.5 273.5 L550.5 273.5Z" fill="#fff0dc"/><path d="M380.5 162.5 L395.5 161.5 L408.5 155.5 L419.5 150.5 L419.5 169.5 L408.5 171.5 L391.5 172.5 L381.5 171.5Z" fill="#ccccff"/><path d="M481.5 153.5 L490.5 149.5 L503.5 145.5 L503.5 161.5 L492.5 163.5 L483.5 159.5Z" fill="#ccccff"/><path d="M503.5 165.5 L517.5 163.5 L512.5 179.5 L506.5 190.5 L499.5 194.5 L497.5 183.5Z" fill="#ffcccc"/><path d="M522.5 203.5 L531.5 197.5 L542.5 196.5 L551.5 200.5 L557.5 215.5 L548.5 213.5 L537.5 204.5Z" fill="#ccccff"/><path d="M455.5 221.5 L463.5 223.5 L460.5 247.5 L455.5 250.5Z" fill="#ccccff"/><path d="M615.5 179.5 L623.5 172.5 L640.5 181.5 L656.5 183.5 L657.5 193.5 L656.5 203.5 L657.5 217.5 L654.5 227.5 L646.5 230.5 L634.5 225.5 L629.5 217.5 L622.5 201.5 L617.5 189.5Z" fill="#ccccff"/><path d="M623.5 203.5 L634.5 196.5 L640.5 189.5 L651.5 191.5 L651.5 201.5 L652.5 212.5 L649.5 223.5 L640.5 227.5 L630.5 220.5 L625.5 210.5Z" fill="#8080ff"/><path d="M635.5 210.5 L640.5 203.5 L646.5 205.5 L646.5 217.5 L640.5 220.5 L635.5 217.5Z" fill="#0000ff"/><path d="M652.5 217.5 L661.5 201.5 L664.5 201.5 L664.5 210.5 L661.5 223.5 L656.5 239.5 L651.5 239.5Z" fill="#ffcccc"/><path d="M654.5 220.5 L659.5 212.5 L664.5 210.5 L661.5 223.5 L657.5 230.5 L653.5 232.5Z" fill="#ff8080"/><path d="M656.5 217.5 L659.5 212.5 L663.5 211.5 L662.5 215.5 L657.5 220.5Z" fill="#ff0000"/><path d="M680.5 184.5 L686.5 186.5 L690.5 189.5 L685.5 193.5 L678.5 193.5Z" fill="#ff8080"/><path d="M380.5 543.5 L520.5 543.5 L520.5 643.5 L380.5 643.5Z" fill="#ffffff"/><path d="M520.5 556.5 L800.5 556.5 L800.5 646.5 L520.5 646.5Z" fill="#ffffff"/><path d="M472.5 457.5 L478.5 456.5 L482.5 461.5 L478.5 465.5 L473.5 464.5Z" fill="#ff8080"/><path d="M506.5 461.5 L512.5 461.5 L515.5 485.5 L511.5 485.5Z" fill="#ffcccc"/><path d="M517.5 434.5 L523.5 427.5 L529.5 420.5 L533.5 415.5 L529.5 408.5 L524.5 410.5 L521.5 423.5 L514.5 434.5Z" fill="#ffcccc"/><path d="M480.5 413.5 L489.5 413.5 L489.5 422.5 L482.5 422.5Z" fill="#ffcccc"/><path d="M450.5 398.5 L456.5 398.5 L460.5 423.5 L453.5 446.5 L450.5 446.5Z" fill="#ffcccc"/><path d="M468.5 415.5 L475.5 415.5 L475.5 430.5 L470.5 430.5Z" fill="#ffcccc"/><path d="M489.5 454.5 L495.5 454.5 L495.5 457.5 L489.5 457.5Z" fill="#ffcccc"/><path d="M436.5 503.5 L441.5 503.5 L444.5 526.5 L439.5 526.5Z" fill="#ffcccc"/><path d="M444.5 476.5 L451.5 476.5 L450.5 490.5 L444.5 488.5Z" fill="#ffcccc"/><path d="M446.5 526.5 L451.5 526.5 L455.5 541.5 L448.5 541.5Z" fill="#ffcccc"/><path d="M393.5 486.5 L400.5 490.5 L402.5 507.5 L399.5 509.5 L395.5 495.5Z" fill="#ffcccc"/><path d="M410.5 485.5 L416.5 485.5 L417.5 500.5 L412.5 500.5Z" fill="#ccccff"/><path d="M482.5 526.5 L489.5 526.5 L487.5 543.5 L482.5 543.5Z" fill="#ffcccc"/><path d="M503.5 167.5 L512.5 165.5 L512.5 179.5 L508.5 190.5 L503.5 192.5 L501.5 181.5Z" fill="#ff8080"/><path d="M504.5 194.5 L510.5 192.5 L508.5 199.5 L503.5 201.5Z" fill="#ff0000"/><path d="M530.5 140.5 L541.5 147.5 L541.5 154.5 L533.5 150.5Z" fill="#ffcccc"/><path d="M541.5 161.5 L548.5 167.5 L546.5 172.5 L541.5 168.5Z" fill="#ffcccc"/><path d="M528.5 179.5 L533.5 177.5 L534.5 182.5 L529.5 182.5Z" fill="#ff8080"/><path d="M235.5 255.5 L241.5 251.5 L242.5 255.5 L238.5 258.5Z" fill="#ff0000"/><path d="M395.5 492.5 L399.5 495.5 L401.5 503.5 L399.5 504.5 L396.5 497.5Z" fill="#ff0000"/><path d="M464.5 245.5 L478.5 248.5 L477.5 267.5 L466.5 267.5Z" fill="#ccccff"/></g><path d="M690.5 223.5 L694.5 223.5 L694.5 226.5 L690.5 226.5Z" fill="#ff0000"/><path d="M346.5 192.5 L355.5 189.5 L363.5 187.5 L367.5 185.5 L374.5 190.5 L367.5 194.5 L361.5 201.5 L357.5 199.5 L353.5 195.5ZM378.5 229.5 L384.5 222.5 L390.5 220.5 L399.5 218.5 L406.5 216.5 L397.5 224.5 L392.5 229.5 L384.5 231.5ZM399.5 247.5 L403.5 243.5 L409.5 241.5 L413.5 243.5 L405.5 245.5 L401.5 247.5ZM428.5 256.5 L432.5 252.5 L435.5 256.5 L430.5 264.5ZM438.5 287.5 L448.5 283.5 L451.5 290.5 L455.5 301.5 L455.5 307.5 L448.5 309.5 L441.5 297.5ZM429.5 255.5 L433.5 251.5 L435.5 253.5 L432.5 262.5 L430.5 263.5Z" fill="#fff" stroke="#000" stroke-width="1"/><path d="M547.5 596.5 L549.5 591.5 L548.5 588.5 L544.5 591.5 L539.5 596.5 L533.5 600.5 L531.5 615.5 L528.5 620.5 L526.5 615.5 L520.5 608.5 L515.5 610.5 L509.5 613.5 L505.5 610.5 L502.5 598.5 L503.5 583.5 L503.5 568.5 L500.5 562.5 L493.5 562.5 L485.5 562.5 L481.5 561.5 L483.5 544.5 L486.5 542.5 L489.5 530.5 L490.5 522.5 L486.5 520.5 L477.5 523.5 L476.5 537.5 L473.5 540.5 L470.5 542.5 L477.5 534.5 L473.5 541.5 L468.5 543.5 L461.5 544.5 L456.5 539.5 L451.5 526.5 L448.5 514.5 L450.5 488.5 L450.5 478.5 L453.5 469.5 L460.5 464.5 L461.5 459.5 L466.5 459.5 L473.5 461.5 L475.5 464.5 L478.5 464.5 L481.5 463.5 L479.5 457.5 L483.5 456.5 L487.5 452.5 L494.5 456.5 L499.5 457.5 L502.5 459.5 L506.5 463.5 L508.5 473.5 L511.5 481.5 L512.5 490.5 L514.5 493.5 L516.5 488.5 L515.5 478.5 L512.5 464.5 L510.5 454.5 L511.5 447.5 L513.5 440.5 L517.5 434.5 L524.5 427.5 L529.5 422.5 L533.5 418.5 L531.5 413.5 L533.5 410.5 L529.5 406.5 L531.5 401.5 L534.5 393.5 L538.5 390.5 L532.5 391.5 L536.5 388.5 L539.5 381.5 L542.5 376.5 L547.5 374.5 L553.5 373.5 L551.5 364.5 L547.5 361.5 L551.5 357.5 L556.5 354.5 L559.5 351.5 L564.5 349.5 L570.5 344.5 L570.5 347.5 L569.5 356.5 L571.5 358.5 L579.5 352.5 L587.5 346.5 L591.5 340.5 L589.5 333.5 L587.5 338.5 L582.5 340.5 L576.5 342.5 L573.5 344.5 L564.5 346.5 L562.5 339.5 L561.5 330.5 L556.5 329.5 L550.5 333.5 L554.5 327.5 L559.5 320.5 L565.5 311.5 L572.5 309.5 L585.5 310.5 L591.5 309.5 L597.5 302.5 L603.5 299.5 L607.5 296.5 L608.5 293.5 L606.5 290.5 L606.5 285.5 L601.5 278.5 L596.5 273.5 L588.5 268.5 L586.5 257.5 L580.5 246.5 L574.5 235.5 L562.5 250.5 L557.5 242.5 L550.5 229.5 L543.5 224.5 L534.5 221.5 L525.5 220.5 L523.5 222.5 L524.5 236.5 L522.5 245.5 L526.5 254.5 L527.5 263.5 L525.5 272.5 L518.5 278.5 L521.5 294.5 L517.5 301.5 L514.5 294.5 L509.5 285.5 L507.5 276.5 L503.5 273.5 L494.5 269.5 L485.5 265.5 L473.5 259.5 L469.5 251.5 L461.5 245.5 L461.5 233.5 L464.5 224.5 L469.5 215.5 L476.5 211.5 L477.5 210.5 L485.5 205.5 L491.5 189.5 L495.5 189.5 L504.5 189.5 L512.5 186.5 L510.5 182.5 L512.5 174.5 L511.5 165.5 L499.5 165.5 L494.5 166.5 L492.5 176.5 L490.5 183.5 L487.5 180.5 L485.5 174.5 L477.5 170.5 L469.5 165.5 L472.5 159.5 L466.5 153.5 L464.5 148.5 L472.5 140.5 L477.5 135.5 L465.5 134.5 L457.5 135.5 L458.5 140.5 L459.5 148.5 L456.5 153.5 L453.5 161.5 L461.5 167.5 L463.5 176.5 L457.5 181.5 L454.5 180.5 L453.5 175.5 L456.5 171.5 L453.5 167.5 L448.5 165.5 L444.5 172.5 L447.5 174.5 L444.5 180.5 L433.5 178.5 L411.5 178.5 L409.5 180.5 L407.5 177.5 L401.5 178.5 L394.5 179.5 L385.5 180.5 L384.5 178.5 L385.5 172.5 L380.5 169.5 L373.5 168.5 L363.5 166.5 L356.5 167.5 L350.5 167.5 L347.5 164.5 L343.5 165.5 L340.5 162.5 L328.5 162.5 L323.5 165.5 L313.5 167.5 L306.5 167.5 L305.5 172.5 L295.5 169.5 L290.5 167.5 L286.5 166.5 L280.5 163.5 L272.5 163.5 L261.5 161.5 L256.5 160.5 L245.5 159.5 L244.5 157.5 L234.5 154.5 L228.5 154.5 L222.5 156.5 L217.5 157.5 L211.5 160.5 L205.5 163.5 L203.5 168.5 L198.5 170.5 L192.5 172.5 L191.5 176.5 L195.5 180.5 L201.5 185.5 L208.5 190.5 L205.5 192.5 L199.5 189.5 L194.5 191.5 L186.5 195.5 L189.5 199.5 L194.5 203.5 L203.5 204.5 L211.5 201.5 L212.5 209.5 L206.5 211.5 L200.5 213.5 L194.5 220.5 L192.5 225.5 L195.5 232.5 L200.5 236.5 L205.5 238.5 L208.5 245.5 L216.5 246.5 L224.5 249.5 L222.5 256.5 L215.5 263.5 L208.5 267.5 L201.5 273.5 L195.5 278.5 L197.5 277.5 L204.5 274.5 L213.5 268.5 L222.5 262.5 L228.5 255.5 L235.5 248.5 L239.5 244.5 L238.5 240.5 L245.5 236.5 L246.5 231.5 L250.5 230.5 L255.5 230.5 L259.5 235.5 L264.5 235.5 L269.5 235.5 L277.5 237.5 L287.5 237.5 L293.5 240.5 L296.5 242.5 L301.5 243.5 L303.5 239.5 L308.5 239.5 L311.5 247.5 L315.5 248.5 L320.5 259.5 L323.5 265.5 L327.5 271.5 L326.5 279.5 L329.5 284.5 L334.5 293.5 L336.5 299.5 L335.5 305.5 L340.5 307.5 L347.5 311.5 L353.5 315.5 L354.5 318.5 L355.5 323.5 L357.5 328.5 L350.5 323.5 L351.5 332.5 L350.5 340.5 L349.5 350.5 L348.5 352.5 L348.5 362.5 L349.5 368.5 L348.5 380.5 L351.5 392.5 L355.5 399.5 L357.5 404.5 L360.5 413.5 L364.5 423.5 L369.5 426.5 L374.5 430.5 L376.5 435.5 L376.5 440.5 L378.5 447.5 L381.5 453.5 L384.5 464.5 L387.5 472.5 L389.5 480.5 L393.5 486.5 L394.5 495.5 L398.5 502.5 L402.5 509.5 L405.5 509.5 L404.5 503.5 L400.5 497.5 L397.5 488.5 L393.5 476.5 L391.5 470.5 L389.5 467.5 L387.5 457.5 L385.5 446.5 L385.5 440.5 L387.5 443.5 L392.5 453.5 L396.5 465.5 L399.5 474.5 L396.5 470.5 L401.5 478.5 L405.5 483.5 L405.5 488.5 L410.5 495.5 L416.5 503.5 L419.5 514.5 L421.5 520.5 L419.5 529.5 L422.5 536.5 L427.5 543.5 L433.5 546.5 L438.5 553.5 L444.5 558.5 L455.5 563.5 L461.5 560.5 L467.5 565.5 L470.5 570.5 L477.5 575.5 L482.5 580.5 L492.5 591.5 L495.5 598.5 L498.5 607.5 L503.5 617.5 L512.5 624.5 L519.5 620.5 L526.5 617.5 L528.5 620.5 L526.5 630.5 L525.5 641.5M234.5 257.5 L241.5 249.5 L244.5 251.5 L243.5 257.5 L237.5 260.5ZM185.5 236.5 L194.5 235.5 L193.5 238.5 L187.5 238.5ZM316.5 281.5 L320.5 281.5 L321.5 286.5 L323.5 295.5 L321.5 293.5 L318.5 286.5ZM138.5 152.5 L144.5 152.5 L149.5 154.5 L146.5 156.5 L140.5 157.5 L138.5 155.5ZM169.5 210.5 L177.5 210.5 L181.5 213.5 L175.5 214.5 L170.5 213.5ZM607.5 299.5 L607.5 304.5 L605.5 310.5 L600.5 318.5 L597.5 323.5 L594.5 326.5 L596.5 329.5 L603.5 331.5 L612.5 335.5 L617.5 336.5 L618.5 329.5 L617.5 323.5 L616.5 317.5 L613.5 314.5 L607.5 311.5 L608.5 305.5ZM498.5 517.5 L503.5 513.5 L510.5 512.5 L519.5 517.5 L527.5 525.5 L534.5 528.5 L537.5 531.5 L534.5 534.5 L526.5 534.5 L520.5 528.5 L515.5 522.5 L510.5 518.5 L503.5 517.5ZM522.5 544.5 L526.5 543.5 L530.5 545.5 L529.5 548.5 L525.5 548.5ZM537.5 543.5 L543.5 540.5 L542.5 534.5 L546.5 532.5 L553.5 534.5 L556.5 537.5 L560.5 543.5 L554.5 545.5 L548.5 547.5 L543.5 545.5ZM564.5 544.5 L567.5 543.5 L571.5 545.5 L568.5 547.5 L565.5 546.5ZM478.5 145.5 L483.5 138.5 L494.5 135.5 L512.5 135.5 L528.5 138.5 L537.5 145.5 L541.5 150.5 L555.5 157.5 L564.5 169.5 L560.5 174.5 L577.5 181.5 L586.5 188.5 L573.5 199.5 L566.5 193.5 L564.5 196.5 L573.5 204.5 L575.5 215.5 L566.5 217.5 L559.5 210.5 L564.5 220.5 L562.5 223.5 L551.5 215.5 L541.5 208.5 L522.5 204.5 L522.5 201.5 L533.5 197.5 L539.5 194.5 L537.5 190.5 L544.5 185.5 L542.5 179.5 L531.5 170.5 L524.5 164.5 L517.5 167.5 L510.5 165.5 L497.5 165.5 L488.5 158.5 L481.5 153.5ZM470.5 122.5 L471.5 127.5 L481.5 130.5 L499.5 130.5 L512.5 127.5 L517.5 122.5ZM371.5 148.5 L387.5 139.5 L412.5 140.5 L422.5 136.5 L431.5 139.5 L425.5 147.5 L434.5 156.5 L444.5 159.5 L441.5 169.5 L431.5 172.5 L422.5 169.5 L412.5 174.5 L403.5 178.5 L392.5 180.5 L384.5 177.5 L390.5 172.5 L381.5 166.5 L374.5 159.5 L377.5 155.5ZM345.5 149.5 L349.5 133.5 L365.5 130.5 L379.5 135.5 L384.5 139.5 L377.5 142.5 L368.5 147.5 L360.5 150.5 L355.5 155.5 L350.5 151.5ZM431.5 142.5 L436.5 138.5 L435.5 136.5 L443.5 134.5 L450.5 133.5 L452.5 136.5 L455.5 141.5 L454.5 148.5 L444.5 153.5 L438.5 148.5 L433.5 145.5ZM491.5 189.5 L497.5 193.5 L503.5 200.5 L509.5 204.5 L515.5 209.5 L510.5 210.5 L503.5 211.5 L497.5 213.5 L491.5 210.5 L493.5 201.5ZM373.5 122.5 L377.5 126.5 L389.5 127.5 L396.5 129.5 L407.5 127.5 L418.5 125.5 L419.5 122.5ZM365.5 120.5 L385.5 128.5 L401.5 131.5 L421.5 126.5 L424.5 123.5 L437.5 123.5 L444.5 129.5 L454.5 128.5 L457.5 123.5 L467.5 124.5 L473.5 129.5 L493.5 131.5 L513.5 129.5 L517.5 123.5 L516.5 120.5ZM526.5 179.5 L530.5 176.5 L535.5 177.5 L536.5 181.5 L531.5 184.5 L527.5 183.5ZM502.5 220.5 L506.5 217.5 L508.5 219.5 L504.5 221.5ZM514.5 223.5 L517.5 220.5 L519.5 223.5 L516.5 226.5Z" fill="none" stroke="#000" stroke-width="1"/><path d="M286.5 167.5 L286.5 235.5 L294.5 238.5 L299.5 243.5 L307.5 239.5 L314.5 249.5 L322.5 263.5 L328.5 268.5 L328.5 276.5M353.5 318.5 L459.5 318.5 L459.5 316.5 L460.5 316.5 L461.5 321.5 L465.5 321.5 L469.5 322.5 L473.5 325.5 L480.5 326.5 L484.5 323.5 L498.5 334.5 L499.5 337.5 L501.5 340.5 L502.5 340.5 L507.5 346.5 L507.5 362.5 L504.5 368.5 L507.5 372.5 L520.5 367.5 L520.5 362.5 L519.5 359.5 L530.5 358.5 L535.5 348.5 L536.5 348.5 L548.5 348.5 L550.5 346.5 L551.5 344.5 L553.5 338.5 L557.5 330.5 L560.5 330.5 L562.5 332.5 L562.5 343.5 L565.5 349.5M376.5 439.5 L385.5 438.5 L385.5 440.5 L399.5 448.5 L410.5 448.5 L410.5 445.5 L416.5 445.5 L424.5 461.5 L429.5 465.5 L432.5 459.5 L435.5 460.5 L440.5 471.5 L442.5 476.5 L447.5 487.5 L451.5 488.5M350.5 339.5 L369.5 340.5 L377.5 340.5M349.5 370.5 L399.5 370.5M376.5 318.5 L376.5 337.5 L377.5 344.5 L378.5 348.5 L376.5 353.5 L376.5 370.5M380.5 318.5 L380.5 326.5 L381.5 330.5 L386.5 336.5 L387.5 344.5 L390.5 349.5 L394.5 351.5 L399.5 351.5 L399.5 377.5M399.5 348.5 L425.5 348.5M425.5 318.5 L425.5 377.5M425.5 341.5 L454.5 341.5M451.5 318.5 L454.5 341.5 L454.5 346.5 L454.5 366.5M425.5 362.5 L446.5 362.5 L454.5 366.5M399.5 377.5 L433.5 377.5M388.5 370.5 L388.5 407.5M365.5 370.5 L365.5 392.5 L386.5 421.5 L388.5 412.5 L388.5 407.5M388.5 407.5 L433.5 407.5M406.5 377.5 L406.5 448.5M386.5 421.5 L386.5 436.5 L385.5 438.5M416.5 443.5 L429.5 443.5 L429.5 407.5M429.5 410.5 L441.5 410.5 L441.5 424.5 L444.5 427.5 L448.5 429.5 L452.5 430.5 L456.5 429.5 L459.5 429.5 L463.5 432.5 L463.5 443.5 L464.5 460.5M433.5 377.5 L433.5 407.5M433.5 385.5 L458.5 385.5M433.5 407.5 L461.5 407.5M461.5 385.5 L461.5 410.5 L462.5 410.5 L462.5 431.5M454.5 366.5 L456.5 373.5 L456.5 380.5 L458.5 385.5M454.5 359.5 L474.5 359.5M457.5 380.5 L473.5 380.5M467.5 335.5 L470.5 340.5 L468.5 344.5 L470.5 351.5 L474.5 359.5 L474.5 365.5 L478.5 370.5 L476.5 373.5 L473.5 380.5 L478.5 393.5 L480.5 404.5 L482.5 407.5 L479.5 414.5 L478.5 421.5 L476.5 426.5 L474.5 436.5 L472.5 451.5 L479.5 451.5 L480.5 457.5M461.5 410.5 L478.5 410.5 L478.5 414.5 L479.5 414.5M463.5 436.5 L474.5 436.5M485.5 421.5 L484.5 429.5 L484.5 444.5 L484.5 455.5M477.5 421.5 L500.5 421.5M495.5 421.5 L497.5 440.5 L497.5 451.5 L498.5 453.5 L508.5 454.5 L508.5 454.5 L511.5 453.5M487.5 451.5 L497.5 451.5M487.5 451.5 L488.5 456.5M504.5 421.5 L508.5 429.5 L512.5 443.5M504.5 421.5 L507.5 420.5 L512.5 421.5 L513.5 423.5 L517.5 423.5 L522.5 430.5M500.5 421.5 L503.5 418.5 L507.5 414.5 L510.5 409.5M480.5 409.5 L531.5 409.5M482.5 407.5 L485.5 403.5 L490.5 400.5 L493.5 399.5 L497.5 394.5 L500.5 391.5 L505.5 394.5 L506.5 396.5 L510.5 390.5 L514.5 380.5M506.5 396.5 L508.5 403.5 L510.5 405.5 L502.5 409.5M510.5 405.5 L515.5 403.5 L518.5 396.5 L522.5 390.5 L525.5 390.5M514.5 370.5 L514.5 387.5 L518.5 387.5 L518.5 390.5 L522.5 387.5 L525.5 390.5 L527.5 393.5 L530.5 399.5M514.5 387.5 L532.5 387.5 L532.5 396.5 L535.5 396.5M498.5 391.5 L498.5 372.5M488.5 372.5 L488.5 389.5 L487.5 393.5 L486.5 397.5 L485.5 403.5M490.5 372.5 L503.5 372.5M476.5 366.5 L487.5 366.5M477.5 336.5 L479.5 339.5 L485.5 341.5 L487.5 347.5M517.5 370.5 L533.5 370.5 L536.5 375.5 L539.5 377.5M536.5 375.5 L534.5 382.5 L533.5 386.5M541.5 348.5 L541.5 364.5 L541.5 369.5 L540.5 377.5M548.5 348.5 L544.5 364.5M541.5 370.5 L548.5 370.5M547.5 370.5 L547.5 375.5M550.5 346.5 L550.5 362.5 L551.5 362.5M541.5 364.5 L551.5 364.5" fill="none" stroke="#000" stroke-width="1"/><path d="M138.5 170.5 L158.5 182.5 L170.5 186.5 L177.5 192.5 L168.5 197.5 L164.5 206.5 L155.5 200.5 L151.5 197.5 L143.5 196.5 L142.5 192.5 L140.5 195.5 L139.5 200.5" fill="none" stroke="#000" stroke-width="1"/><path d="M180.5 291.5 L184.5 284.5 L190.5 282.5 L189.5 285.5 L183.5 287.5 L180.5 291.5" fill="none" stroke="#000" stroke-width="1"/><path d="M145.5 298.5 L149.5 297.5 L153.5 297.5" fill="none" stroke="#000" stroke-width="1"/><path d="M158.5 294.5 L161.5 293.5" fill="none" stroke="#000" stroke-width="1"/><path d="M598.5 122.5 L600.5 125.5 L606.5 130.5 L607.5 137.5 L606.5 144.5 L608.5 150.5 L617.5 151.5 L623.5 157.5 L620.5 158.5 L613.5 158.5 L612.5 164.5 L617.5 167.5 L625.5 166.5 L625.5 172.5 L617.5 178.5 L615.5 184.5 L617.5 193.5 L622.5 200.5 L627.5 213.5 L632.5 223.5 L635.5 230.5 L644.5 234.5 L651.5 239.5 L654.5 237.5 L657.5 227.5 L659.5 218.5 L664.5 210.5 L664.5 201.5 L669.5 196.5 L676.5 195.5 L685.5 191.5 L690.5 188.5 L693.5 181.5 L698.5 178.5 L707.5 176.5 L719.5 171.5 L711.5 174.5 L723.5 169.5 L731.5 163.5 L734.5 160.5" fill="none" stroke="#000" stroke-width="1"/><path d="M718.5 160.5 L719.5 161.5 L729.5 162.5 L735.5 160.5" fill="none" stroke="#000" stroke-width="1"/><path d="M727.5 194.5 L731.5 190.5 L736.5 191.5 L737.5 197.5 L741.5 196.5 L742.5 192.5 L750.5 192.5 L756.5 189.5 L762.5 191.5 L764.5 195.5 L766.5 199.5 L765.5 204.5 L758.5 207.5 L750.5 210.5 L747.5 211.5 L741.5 210.5 L735.5 208.5 L733.5 204.5 L728.5 202.5 L731.5 200.5 L727.5 198.5 L727.5 194.5" fill="none" stroke="#000" stroke-width="1"/><path d="M790.5 220.5 L794.5 219.5 L795.5 221.5 L791.5 222.5 L790.5 220.5" fill="none" stroke="#000" stroke-width="1"/><path d="M792.5 252.5 L795.5 249.5 L796.5 254.5 L798.5 260.5 L797.5 265.5 L799.5 269.5 L800.5 271.5" fill="none" stroke="#000" stroke-width="1"/><path d="M780.5 279.5 L786.5 274.5 L792.5 273.5 L796.5 277.5 L797.5 281.5 L794.5 285.5 L796.5 289.5 L794.5 295.5 L790.5 297.5 L784.5 300.5 L780.5 297.5 L779.5 293.5 L782.5 285.5 L780.5 279.5" fill="none" stroke="#000" stroke-width="1"/><path d="M783.5 380.5 L783.5 393.5 L785.5 405.5 L792.5 407.5 L797.5 410.5" fill="none" stroke="#000" stroke-width="1"/><path d="M799.5 415.5 L792.5 431.5 L782.5 448.5 L780.5 458.5 L771.5 472.5 L768.5 475.5 L763.5 486.5 L758.5 503.5 L754.5 516.5 L756.5 523.5 L756.5 540.5 L756.5 554.5 L753.5 571.5 L754.5 585.5 L758.5 595.5 L768.5 606.5 L775.5 619.5 L782.5 633.5 L789.5 641.5" fill="none" stroke="#000" stroke-width="1"/><path d="M768.5 475.5 L785.5 475.5 L785.5 487.5 L773.5 489.5 L771.5 503.5 L768.5 520.5 L754.5 522.5" fill="none" stroke="#000" stroke-width="1"/><path d="M785.5 479.5 L799.5 493.5" fill="none" stroke="#000" stroke-width="1"/><path d="M794.5 496.5 L799.5 496.5" fill="none" stroke="#000" stroke-width="1"/><path d="M794.5 496.5 L794.5 564.5 L782.5 566.5 L775.5 568.5 L768.5 575.5" fill="none" stroke="#000" stroke-width="1"/><path d="M756.5 582.5 L768.5 585.5 L778.5 588.5 L785.5 599.5 L789.5 602.5 L799.5 602.5" fill="none" stroke="#000" stroke-width="1"/><path d="M768.5 606.5 L771.5 616.5 L778.5 619.5 L782.5 626.5" fill="none" stroke="#000" stroke-width="1"/><path d="M753.5 472.5 L758.5 470.5 L763.5 472.5 L766.5 467.5" fill="none" stroke="#000" stroke-width="1"/><path d="M710.5 395.5 L713.5 397.5" fill="none" stroke="#000" stroke-width="1"/><path d="M720.5 400.5 L723.5 400.5" fill="none" stroke="#000" stroke-width="1"/><path d="M213.5 518.5 L215.5 516.5 L217.5 516.5 L217.5 518.5 L213.5 518.5" fill="none" stroke="#000" stroke-width="1"/><path d="M221.5 521.5 L222.5 519.5 L223.5 521.5 L222.5 522.5 L221.5 521.5" fill="none" stroke="#000" stroke-width="1"/><path d="M225.5 523.5 L227.5 523.5" fill="none" stroke="#000" stroke-width="1"/><path d="M227.5 524.5 L229.5 525.5 L228.5 527.5 L227.5 526.5 L227.5 524.5" fill="none" stroke="#000" stroke-width="1"/><path d="M230.5 530.5 L233.5 532.5 L234.5 535.5 L233.5 537.5 L231.5 539.5 L229.5 536.5 L229.5 533.5 L230.5 530.5" fill="none" stroke="#000" stroke-width="1"/><path d="M560.5 597.5 L561.5 601.5 L567.5 602.5 L572.5 604.5 L575.5 601.5 L580.5 600.5 L583.5 600.5 L582.5 604.5 L586.5 607.5 L588.5 615.5 L592.5 616.5 L596.5 623.5 L597.5 629.5 L604.5 635.5 L608.5 634.5 L613.5 637.5 L618.5 641.5" fill="none" stroke="#000" stroke-width="1"/><path d="M585.5 600.5 L588.5 600.5 L588.5 604.5 L586.5 604.5 L585.5 600.5" fill="none" stroke="#000" stroke-width="1"/><path d="M589.5 618.5 L589.5 624.5 L587.5 629.5 L586.5 635.5 L591.5 642.5" fill="none" stroke="#000" stroke-width="1"/><path d="M562.5 632.5 L563.5 637.5 L562.5 642.5" fill="none" stroke="#000" stroke-width="1"/><path d="M585.5 558.5 L586.5 561.5 L586.5 563.5" fill="none" stroke="#000" stroke-width="1"/><path d="M563.5 544.5 L566.5 543.5 L570.5 544.5 L568.5 547.5 L565.5 547.5 L563.5 544.5" fill="none" stroke="#000" stroke-width="1"/><path d="M543.5 607.5 L544.5 617.5 L553.5 630.5 L561.5 634.5 L563.5 641.5" fill="none" stroke="#000" stroke-width="1"/><path d="M547.5 596.5 L546.5 603.5 L548.5 612.5 L549.5 608.5 L549.5 598.5" fill="none" stroke="#000" stroke-width="1"/><path d="M553.5 590.5 L556.5 596.5 L563.5 600.5 L571.5 605.5 L578.5 600.5 L588.5 600.5 L592.5 617.5 L599.5 630.5 L599.5 634.5" fill="none" stroke="#000" stroke-width="1"/><path d="M588.5 600.5 L587.5 607.5 L592.5 615.5 L588.5 630.5 L592.5 641.5" fill="none" stroke="#000" stroke-width="1"/><path d="M470.5 547.5 L473.5 547.5 L476.5 556.5 L470.5 562.5" fill="none" stroke="#000" stroke-width="1"/><path d="M482.5 545.5 L481.5 561.5" fill="none" stroke="#000" stroke-width="1"/><path d="M476.5 556.5 L481.5 568.5 L480.5 574.5 L486.5 581.5" fill="none" stroke="#000" stroke-width="1"/><path d="M481.5 568.5 L488.5 564.5 L495.5 568.5 L503.5 568.5" fill="none" stroke="#000" stroke-width="1"/><path d="M486.5 581.5 L495.5 576.5 L503.5 568.5" fill="none" stroke="#000" stroke-width="1"/><path d="M495.5 598.5 L503.5 600.5 L502.5 598.5" fill="none" stroke="#000" stroke-width="1"/><path d="M505.5 610.5 L506.5 617.5" fill="none" stroke="#000" stroke-width="1"/><path d="M520.5 482.5 L524.5 481.5 L527.5 485.5 L525.5 491.5" fill="none" stroke="#000" stroke-width="1"/><path d="M523.5 495.5 L524.5 505.5" fill="none" stroke="#000" stroke-width="1"/><path d="M529.5 491.5 L534.5 500.5 L538.5 512.5" fill="none" stroke="#000" stroke-width="1"/><path d="M306.5 245.5 L310.5 254.5 L313.5 262.5 L318.5 267.5 L322.5 274.5 L326.5 282.5 L329.5 284.5" fill="none" stroke="#000" stroke-width="1"/><path d="M310.5 257.5 L313.5 265.5 L319.5 272.5 L323.5 281.5" fill="none" stroke="#000" stroke-width="1"/><path d="M336.5 303.5 L346.5 306.5 L352.5 311.5 L355.5 316.5 L356.5 320.5" fill="none" stroke="#000" stroke-width="1"/><path d="M315.5 250.5 L317.5 255.5 L322.5 260.5" fill="none" stroke="#000" stroke-width="1"/><path d="M790.5 380.5 L792.5 390.5 L789.5 400.5 L794.5 407.5" fill="none" stroke="#000" stroke-width="1"/><path d="M756.5 558.5 L763.5 556.5 L768.5 564.5 L782.5 564.5 L794.5 564.5" fill="none" stroke="#000" stroke-width="1"/><path d="M754.5 578.5 L761.5 576.5 L768.5 578.5 L763.5 582.5 L756.5 582.5" fill="none" stroke="#000" stroke-width="1"/><path d="M782.5 592.5 L785.5 602.5 L789.5 619.5 L792.5 641.5" fill="none" stroke="#000" stroke-width="1"/><path d="M758.5 595.5 L768.5 599.5 L778.5 602.5 L785.5 602.5" fill="none" stroke="#000" stroke-width="1"/><path d="M773.5 619.5 L780.5 616.5 L785.5 626.5 L782.5 641.5" fill="none" stroke="#000" stroke-width="1"/><path d="M471.5 334.5 L474.5 331.5 L485.5 322.5 L490.5 328.5 L494.5 332.5 L499.5 337.5 L493.5 337.5 L487.5 337.5 L481.5 334.5 L471.5 334.5" fill="none" stroke="#000" stroke-width="1"/><path d="M487.5 343.5 L494.5 342.5 L490.5 348.5 L490.5 371.5 L488.5 371.5 L487.5 362.5 L486.5 349.5 L487.5 343.5" fill="none" stroke="#000" stroke-width="1"/><path d="M497.5 343.5 L504.5 342.5 L513.5 345.5 L517.5 350.5 L512.5 349.5 L509.5 353.5 L505.5 358.5 L503.5 362.5 L502.5 355.5 L499.5 349.5 L497.5 343.5" fill="none" stroke="#000" stroke-width="1"/><path d="M504.5 371.5 L512.5 366.5 L519.5 363.5 L516.5 369.5 L509.5 373.5 L504.5 371.5" fill="none" stroke="#000" stroke-width="1"/><path d="M518.5 359.5 L524.5 355.5 L531.5 357.5 L526.5 359.5 L519.5 360.5 L518.5 359.5" fill="none" stroke="#000" stroke-width="1"/><path d="M516.5 267.5 L517.5 263.5 L520.5 262.5 L519.5 267.5 L516.5 268.5" fill="none" stroke="#000" stroke-width="1"/><path d="M508.5 288.5 L510.5 287.5 L512.5 289.5 L510.5 291.5 L508.5 288.5" fill="none" stroke="#000" stroke-width="1"/></g>
<defs><clipPath id="clip"><rect x="105" y="123" width="694" height="519"/></clipPath></defs>
<rect x="104.5" y="122.5" width="695" height="520" fill="none" stroke="#000" stroke-width="1"/>
<path d="M139.5 122V111M139.5 643V654M214.5 122V111M214.5 643V654M290.5 122V111M290.5 643V654M365.5 122V111M365.5 643V654M441.5 122V111M441.5 643V654M516.5 122V111M516.5 643V654M591.5 122V111M591.5 643V654M667.5 122V111M667.5 643V654M742.5 122V111M742.5 643V654M104 605.5H93M800 605.5H811M104 532.5H93M800 532.5H811M104 458.5H93M800 458.5H811M104 385.5H93M800 385.5H811M104 311.5H93M800 311.5H811M104 238.5H93M800 238.5H811M104 164.5H93M800 164.5H811" stroke="#000" stroke-width="1" fill="none"/>
<rect x="820.5" y="122.50" width="23" height="34.67" fill="#ffff00" stroke="#000" stroke-width="1"/><rect x="820.5" y="157.17" width="23" height="34.67" fill="#cccc4c" stroke="#000" stroke-width="1"/><rect x="820.5" y="191.83" width="23" height="34.67" fill="#ff7f00" stroke="#000" stroke-width="1"/><rect x="820.5" y="226.50" width="23" height="34.67" fill="#b21919" stroke="#000" stroke-width="1"/><rect x="820.5" y="261.17" width="23" height="34.67" fill="#ff0000" stroke="#000" stroke-width="1"/><rect x="820.5" y="295.83" width="23" height="34.67" fill="#ff8080" stroke="#000" stroke-width="1"/><rect x="820.5" y="330.50" width="23" height="34.67" fill="#ffcccc" stroke="#000" stroke-width="1"/><rect x="820.5" y="365.17" width="23" height="34.67" fill="#fff0dc" stroke="#000" stroke-width="1"/><rect x="820.5" y="399.83" width="23" height="34.67" fill="#ccccff" stroke="#000" stroke-width="1"/><rect x="820.5" y="434.50" width="23" height="34.67" fill="#8080ff" stroke="#000" stroke-width="1"/><rect x="820.5" y="469.17" width="23" height="34.67" fill="#0000ff" stroke="#000" stroke-width="1"/><rect x="820.5" y="503.83" width="23" height="34.67" fill="#00009a" stroke="#000" stroke-width="1"/><rect x="820.5" y="538.50" width="23" height="34.67" fill="#9900e6" stroke="#000" stroke-width="1"/><rect x="820.5" y="573.17" width="23" height="34.67" fill="#cc66cc" stroke="#000" stroke-width="1"/><rect x="820.5" y="607.83" width="23" height="34.67" fill="#ff00ff" stroke="#000" stroke-width="1"/>
<g fill="#000" shape-rendering="auto"><text x="766" y="18.6" font-size="8.5" font-family="'Liberation Sans',sans-serif" text-anchor="start" textLength="67" lengthAdjust="spacingAndGlyphs" >FERRET Ver. 5.70</text><text x="764.5" y="27" font-size="8.5" font-family="'Liberation Sans',sans-serif" text-anchor="start" textLength="69" lengthAdjust="spacingAndGlyphs" >NOAA/PMEL TMAP</text><text x="754" y="36.3" font-size="8.5" font-family="'Liberation Sans',sans-serif" text-anchor="start" textLength="90.5" lengthAdjust="spacingAndGlyphs" >Nov 24 2004 09:09:02</text><text x="105.5" y="70" font-size="15" font-family="'Liberation Sans',sans-serif" text-anchor="start" textLength="692.5" lengthAdjust="spacingAndGlyphs" >TIME : 31−JAN−1979 12:00 to 28−FEB−1979 12:00DATA SET: exp.0.1.cru.pnlmm5.tmin</text><text x="382.5" y="93.6" font-size="15" font-family="'Liberation Sans',sans-serif" text-anchor="start" textLength="138" lengthAdjust="spacingAndGlyphs" >CRU ts 2.10 tmin</text><text x="122.75" y="671" font-size="13.7" font-family="'Liberation Sans',sans-serif" text-anchor="start" textLength="33.5" lengthAdjust="spacingAndGlyphs" >−180</text><text x="273.55" y="671" font-size="13.7" font-family="'Liberation Sans',sans-serif" text-anchor="start" textLength="33.5" lengthAdjust="spacingAndGlyphs" >−140</text><text x="424.35" y="671" font-size="13.7" font-family="'Liberation Sans',sans-serif" text-anchor="start" textLength="33.5" lengthAdjust="spacingAndGlyphs" >−100</text><text x="579.4" y="671" font-size="13.7" font-family="'Liberation Sans',sans-serif" text-anchor="start" textLength="25" lengthAdjust="spacingAndGlyphs" >−60</text><text x="730.2" y="671" font-size="13.7" font-family="'Liberation Sans',sans-serif" text-anchor="start" textLength="25" lengthAdjust="spacingAndGlyphs" >−20</text><text x="87.2" y="610.5" font-size="13.7" font-family="'Liberation Sans',sans-serif" text-anchor="end" textLength="15.7" lengthAdjust="spacingAndGlyphs" >10</text><text x="87.2" y="463.5" font-size="13.7" font-family="'Liberation Sans',sans-serif" text-anchor="end" textLength="15.7" lengthAdjust="spacingAndGlyphs" >30</text><text x="87.2" y="316.5" font-size="13.7" font-family="'Liberation Sans',sans-serif" text-anchor="end" textLength="15.7" lengthAdjust="spacingAndGlyphs" >50</text><text x="87.2" y="169.5" font-size="13.7" font-family="'Liberation Sans',sans-serif" text-anchor="end" textLength="15.7" lengthAdjust="spacingAndGlyphs" >70</text><text x="415.7" y="691.8" font-size="16.5" font-family="'Liberation Sans',sans-serif" text-anchor="start" textLength="73.3" lengthAdjust="spacingAndGlyphs" >LONGIDOT</text><g transform="translate(61 413.9) rotate(-90)"><text x="0" y="0" font-size="16.5" font-family="'Liberation Sans',sans-serif" text-anchor="start" textLength="64.8" lengthAdjust="spacingAndGlyphs" >LATITDOT</text></g><text x="127" y="713.3" font-size="13" font-family="'Liberation Serif',serif" text-anchor="start" textLength="649" lengthAdjust="spacingAndGlyphs" font-weight="bold">(TMIN[D=exp.0.1.tmaxtminprep,L=32:59@AVE]−273.15)−TMINNEW[D=exp.0.1.cru.pnlmm5.tmin,L=2]</text><text x="858" y="128.0" font-size="16.5" font-family="'Liberation Sans',sans-serif" text-anchor="start" textLength="18" lengthAdjust="spacingAndGlyphs" >24</text><text x="858" y="162.66666666666666" font-size="16.5" font-family="'Liberation Sans',sans-serif" text-anchor="start" textLength="18" lengthAdjust="spacingAndGlyphs" >21</text><text x="858" y="197.33333333333331" font-size="16.5" font-family="'Liberation Sans',sans-serif" text-anchor="start" textLength="18" lengthAdjust="spacingAndGlyphs" >18</text><text x="858" y="232.0" font-size="16.5" font-family="'Liberation Sans',sans-serif" text-anchor="start" textLength="18" lengthAdjust="spacingAndGlyphs" >15</text><text x="858" y="266.66666666666663" font-size="16.5" font-family="'Liberation Sans',sans-serif" text-anchor="start" textLength="18" lengthAdjust="spacingAndGlyphs" >12</text><text x="865.8" y="301.3333333333333" font-size="16.5" font-family="'Liberation Sans',sans-serif" text-anchor="start" textLength="8.2" lengthAdjust="spacingAndGlyphs" >9</text><text x="865.8" y="336.0" font-size="16.5" font-family="'Liberation Sans',sans-serif" text-anchor="start" textLength="8.2" lengthAdjust="spacingAndGlyphs" >6</text><text x="865.8" y="370.66666666666663" font-size="16.5" font-family="'Liberation Sans',sans-serif" text-anchor="start" textLength="8.2" lengthAdjust="spacingAndGlyphs" >3</text><text x="859.5" y="405.3333333333333" font-size="16.5" font-family="'Liberation Sans',sans-serif" text-anchor="start" textLength="21" lengthAdjust="spacingAndGlyphs" >−3</text><text x="859.5" y="440.0" font-size="16.5" font-family="'Liberation Sans',sans-serif" text-anchor="start" textLength="21" lengthAdjust="spacingAndGlyphs" >−6</text><text x="859.5" y="474.66666666666663" font-size="16.5" font-family="'Liberation Sans',sans-serif" text-anchor="start" textLength="21" lengthAdjust="spacingAndGlyphs" >−9</text><text x="851.0" y="509.3333333333333" font-size="16.5" font-family="'Liberation Sans',sans-serif" text-anchor="start" textLength="29.5" lengthAdjust="spacingAndGlyphs" >−12</text><text x="851.0" y="544.0" font-size="16.5" font-family="'Liberation Sans',sans-serif" text-anchor="start" textLength="29.5" lengthAdjust="spacingAndGlyphs" >−15</text><text x="851.0" y="578.6666666666666" font-size="16.5" font-family="'Liberation Sans',sans-serif" text-anchor="start" textLength="29.5" lengthAdjust="spacingAndGlyphs" >−18</text><text x="851.0" y="613.3333333333333" font-size="16.5" font-family="'Liberation Sans',sans-serif" text-anchor="start" textLength="29.5" lengthAdjust="spacingAndGlyphs" >−21</text><text x="851.0" y="648.0" font-size="16.5" font-family="'Liberation Sans',sans-serif" text-anchor="start" textLength="29.5" lengthAdjust="spacingAndGlyphs" >−24</text></g>
</svg>
</body></html>
